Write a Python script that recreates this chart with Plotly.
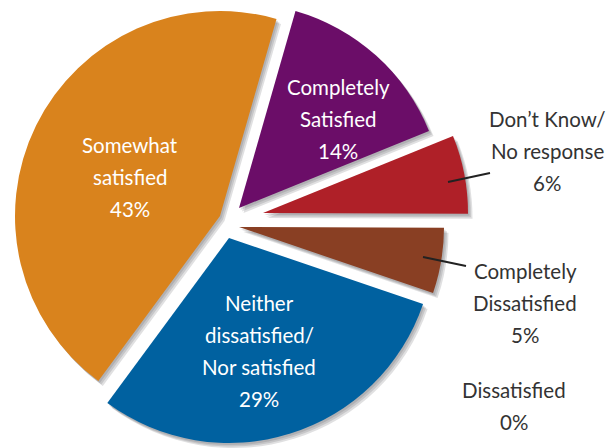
"""Exploded satisfaction pie chart"""
import plotly.graph_objects as go

W, H = 611, 448

labels = ['Completely Satisfied', "Don't Know/No response", 'Completely Dissatisfied',
          'Dissatisfied', 'Neither dissatisfied/Nor satisfied', 'Somewhat satisfied']
values = [14, 6, 5, 0, 29, 43]
colors = ['#6B0D68', '#AF2028', '#893F23', '#999999', '#0061A0', '#D9831D']

# label lines shown on the chart
label_lines = [
    ['Completely', 'Satisfied', '14%'],
    ["Don\u2019t Know/", 'No response', '6%'],
    ['Completely', 'Dissatisfied', '5%'],
    ['Dissatisfied', '0%'],
    ['Neither', 'dissatisfied/', 'Nor satisfied', '29%'],
    ['Somewhat', 'satisfied', '43%'],
]

# layout: pie centre, radius and how far each slice is exploded (px)
CX, CY, R = 222, 222, 205
explode = [(17, -14), (41, -9), (17, 5), (0, 0), (7, 16), (-2, -6)]
# label centre (x, first line y) and colour
label_pos = [(338, 87, 'white'), (547, 119, '#333333'), (525, 271, '#333333'),
             (514, 390, '#333333'), (259, 303, 'white'), (130, 145, 'white')]
LINE_GAP = 32
leaders = [((448, 182), (490, 173)), ((423, 257), (466, 266))]

CLEAR = 'rgba(0,0,0,0)'


def slice_trace(idx, color, dx=0, dy=0):
    ax, ay = CX + explode[idx][0] + dx, CY + explode[idx][1] + dy
    cols = [CLEAR] * len(values)
    cols[idx] = color
    return go.Pie(
        labels=labels, values=values, sort=False, direction='clockwise', rotation=16,
        marker=dict(colors=cols, line=dict(width=0)),
        textinfo='none', hoverinfo='skip', showlegend=False,
        domain=dict(x=[(ax - R) / W, (ax + R) / W],
                    y=[(H - ay - R) / H, (H - ay + R) / H]),
    )


fig = go.Figure()

# soft shadows first, then the slices
for i, v in enumerate(values):
    if v == 0:
        continue
    for s in (1.5, 3, 4.5):
        fig.add_trace(slice_trace(i, 'rgba(70,70,80,0.17)', s, s + 0.5))
for i, v in enumerate(values):
    if v == 0:
        continue
    fig.add_trace(slice_trace(i, colors[i]))

for (x, y0, c), lines in zip(label_pos, label_lines):
    for k, line in enumerate(lines):
        fig.add_annotation(
            x=x / W, y=1 - (y0 + k * LINE_GAP) / H, xref='paper', yref='paper',
            text=line, showarrow=False, xanchor='center', yanchor='middle',
            font=dict(family='Lato, Arial, sans-serif', size=20.5, color=c),
        )

for (x0, y0), (x1, y1) in leaders:
    fig.add_shape(type='line', xref='paper', yref='paper',
                  x0=x0 / W, y0=1 - y0 / H, x1=x1 / W, y1=1 - y1 / H,
                  line=dict(color='#222222', width=2))

fig.update_layout(
    width=W, height=H,
    margin=dict(l=0, r=0, t=0, b=0),
    paper_bgcolor='white',
    plot_bgcolor='white',
)

fig.write_html("out.html", config={'displayModeBar': False},
               post_script="document.body.style.margin='0px';")
